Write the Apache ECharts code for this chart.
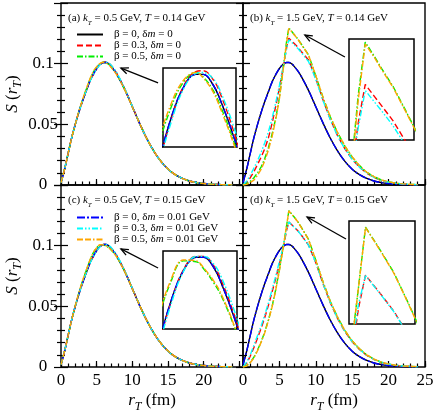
<!DOCTYPE html>
<html>
<head>
<meta charset="utf-8">
<script src="https://cdn.jsdelivr.net/npm/echarts@6/dist/echarts.min.js"></script>
<style>
  html, body { margin: 0; padding: 0; background: #fff; }
  #chart { width: 435px; height: 414px; }
</style>
</head>
<body>
<div id="chart"></div>
<script>
// r_T grid (fm)
const R = [0, 0.5, 1, 1.5, 2, 2.5, 3, 3.5, 4, 4.5, 5, 5.5, 6, 6.3, 6.7, 7, 7.5, 8, 9, 10, 11, 12, 13, 14, 15, 16, 17, 18, 19, 20, 21, 22, 23, 24]

// beta = 0 (black / blue), same in every panel
const S_BASE = [0.002, 0.013, 0.026, 0.039, 0.050, 0.060, 0.069, 0.077, 0.085, 0.091, 0.096, 0.0995, 0.1010, 0.1010, 0.0998, 0.0980, 0.0942, 0.0895, 0.0780, 0.0645, 0.0510, 0.0385, 0.0280, 0.0195, 0.0130, 0.0085, 0.0054, 0.0033, 0.0020, 0.0012, 0.0007, 0.0004, 0.0002, 0.0001]

// (a) kT = 0.5 GeV, T = 0.14 GeV
const A_R3 = [0.002, 0.013, 0.026, 0.039, 0.050, 0.060, 0.069, 0.077, 0.0848, 0.0907, 0.0958, 0.0996, 0.1013, 0.1014, 0.1004, 0.0987, 0.0948, 0.0900, 0.0783, 0.0646, 0.0510, 0.0384, 0.0279, 0.0194, 0.0129, 0.0085, 0.0054, 0.0033, 0.0020, 0.0012, 0.0007, 0.0004, 0.0002, 0.0001]
const A_G5 = [0.002, 0.013, 0.026, 0.039, 0.050, 0.0605, 0.0697, 0.0782, 0.0862, 0.0928, 0.0972, 0.1001, 0.1012, 0.1007, 0.0992, 0.0974, 0.0937, 0.0891, 0.0777, 0.0643, 0.0509, 0.0385, 0.0281, 0.0196, 0.0131, 0.0086, 0.0054, 0.0033, 0.0020, 0.0012, 0.0007, 0.0004, 0.0002, 0.0001]
const A_C3 = [0.002, 0.013, 0.026, 0.039, 0.050, 0.060, 0.069, 0.077, 0.0847, 0.0906, 0.0955, 0.0993, 0.1011, 0.1012, 0.1005, 0.0990, 0.0953, 0.0906, 0.0786, 0.0648, 0.0511, 0.0384, 0.0279, 0.0194, 0.0129, 0.0085, 0.0054, 0.0033, 0.0020, 0.0012, 0.0007, 0.0004, 0.0002, 0.0001]
const A_O5 = [0.002, 0.013, 0.026, 0.039, 0.050, 0.0607, 0.0700, 0.0786, 0.0866, 0.0933, 0.0976, 0.1003, 0.1012, 0.1006, 0.0990, 0.0971, 0.0934, 0.0889, 0.0776, 0.0643, 0.0509, 0.0385, 0.0281, 0.0196, 0.0131, 0.0086, 0.0054, 0.0033, 0.0020, 0.0012, 0.0007, 0.0004, 0.0002, 0.0001]

// (b) kT = 1.5 GeV, T = 0.14 GeV
const B_R3 = [0, 0.002, 0.006, 0.011, 0.017, 0.023, 0.030, 0.039, 0.051, 0.065, 0.080, 0.096, 0.1135, 0.1210, 0.1186, 0.1168, 0.1138, 0.1100, 0.1030, 0.0880, 0.0700, 0.0540, 0.0405, 0.0298, 0.0212, 0.0146, 0.0097, 0.0062, 0.0038, 0.0023, 0.0013, 0.0008, 0.0004, 0.0002]
const B_G5 = [0, 0.001, 0.003, 0.006, 0.010, 0.015, 0.022, 0.031, 0.042, 0.055, 0.072, 0.095, 0.119, 0.1294, 0.1265, 0.1242, 0.1206, 0.1162, 0.1072, 0.0900, 0.0720, 0.0560, 0.0430, 0.0320, 0.0230, 0.0160, 0.0105, 0.0068, 0.0042, 0.0026, 0.0015, 0.0009, 0.0005, 0.0003]
const B_C3 = [0, 0.003, 0.008, 0.014, 0.020, 0.027, 0.035, 0.044, 0.055, 0.068, 0.082, 0.097, 0.1125, 0.1198, 0.1175, 0.1158, 0.1128, 0.1092, 0.1018, 0.0870, 0.0695, 0.0538, 0.0404, 0.0297, 0.0212, 0.0146, 0.0097, 0.0062, 0.0038, 0.0023, 0.0013, 0.0008, 0.0004, 0.0002]
const B_O5 = [0, 0.0005, 0.002, 0.004, 0.008, 0.013, 0.020, 0.029, 0.040, 0.054, 0.071, 0.094, 0.118, 0.1290, 0.1263, 0.1240, 0.1204, 0.1160, 0.1071, 0.0900, 0.0721, 0.0561, 0.0431, 0.0321, 0.0231, 0.0160, 0.0105, 0.0068, 0.0042, 0.0026, 0.0015, 0.0009, 0.0005, 0.0003]

// (c) kT = 0.5 GeV, T = 0.15 GeV
const C_R3 = [0.002, 0.013, 0.026, 0.039, 0.050, 0.060, 0.069, 0.077, 0.0848, 0.0908, 0.0959, 0.0996, 0.1011, 0.1011, 0.1000, 0.0983, 0.0945, 0.0897, 0.0782, 0.0646, 0.0510, 0.0385, 0.0280, 0.0195, 0.0130, 0.0085, 0.0054, 0.0033, 0.0020, 0.0012, 0.0007, 0.0004, 0.0002, 0.0001]
const C_G5 = [0.002, 0.013, 0.026, 0.039, 0.0505, 0.061, 0.0705, 0.079, 0.0870, 0.0938, 0.0982, 0.1006, 0.1005, 0.0997, 0.0981, 0.0966, 0.0932, 0.0889, 0.0778, 0.0645, 0.0511, 0.0386, 0.0281, 0.0196, 0.0131, 0.0086, 0.0054, 0.0033, 0.0020, 0.0012, 0.0007, 0.0004, 0.0002, 0.0001]
const C_C3 = [0.002, 0.013, 0.026, 0.039, 0.050, 0.060, 0.069, 0.077, 0.0847, 0.0906, 0.0956, 0.0994, 0.1011, 0.1011, 0.1002, 0.0987, 0.0950, 0.0903, 0.0785, 0.0647, 0.0511, 0.0385, 0.0280, 0.0195, 0.0130, 0.0085, 0.0054, 0.0033, 0.0020, 0.0012, 0.0007, 0.0004, 0.0002, 0.0001]
const C_O5 = [0.002, 0.013, 0.026, 0.039, 0.0505, 0.0612, 0.0708, 0.0793, 0.0873, 0.0940, 0.0984, 0.1007, 0.1006, 0.0998, 0.0983, 0.0968, 0.0933, 0.0889, 0.0777, 0.0644, 0.0510, 0.0386, 0.0281, 0.0196, 0.0131, 0.0086, 0.0054, 0.0033, 0.0020, 0.0012, 0.0007, 0.0004, 0.0002, 0.0001]

// (d) kT = 1.5 GeV, T = 0.15 GeV
const D_R3 = [0, 0.003, 0.009, 0.016, 0.024, 0.032, 0.041, 0.051, 0.062, 0.073, 0.085, 0.097, 0.1130, 0.1195, 0.1172, 0.1155, 0.1125, 0.1088, 0.1005, 0.0860, 0.0685, 0.0528, 0.0398, 0.0292, 0.0208, 0.0144, 0.0096, 0.0062, 0.0038, 0.0023, 0.0013, 0.0008, 0.0004, 0.0002]
const D_G5 = [0, 0.001, 0.004, 0.008, 0.014, 0.021, 0.029, 0.039, 0.050, 0.064, 0.080, 0.098, 0.117, 0.1288, 0.1260, 0.1238, 0.1200, 0.1152, 0.1052, 0.0880, 0.0700, 0.0540, 0.0410, 0.0300, 0.0215, 0.0150, 0.0100, 0.0064, 0.0040, 0.0024, 0.0014, 0.0008, 0.0005, 0.0003]
const D_C3 = [0, 0.004, 0.010, 0.018, 0.026, 0.034, 0.043, 0.053, 0.064, 0.075, 0.087, 0.099, 0.1138, 0.1194, 0.1171, 0.1154, 0.1124, 0.1087, 0.1004, 0.0860, 0.0686, 0.0529, 0.0398, 0.0292, 0.0208, 0.0144, 0.0096, 0.0062, 0.0038, 0.0023, 0.0013, 0.0008, 0.0004, 0.0002]
const D_O5 = [0, 0.0008, 0.0035, 0.0075, 0.0135, 0.0205, 0.0285, 0.0385, 0.0495, 0.0635, 0.0795, 0.0978, 0.1170, 0.1287, 0.1259, 0.1237, 0.1199, 0.1151, 0.1051, 0.0880, 0.0700, 0.0540, 0.0410, 0.0300, 0.0215, 0.0150, 0.0100, 0.0064, 0.0040, 0.0024, 0.0014, 0.0008, 0.0005, 0.0003]

// tick labels
const X_LABELS_LEFT = [0, 5, 10, 15, 20]
const X_LABELS_RIGHT = [0, 5, 10, 15, 20, 25]

const NAMES = ['β = 0, δm = 0', 'β = 0.3, δm = 0', 'β = 0.5, δm = 0',
  'β = 0, δm = 0.01 GeV', 'β = 0.3, δm = 0.01 GeV', 'β = 0.5, δm = 0.01 GeV']
const CURVES = [
  [S_BASE, A_R3, A_G5, S_BASE, A_C3, A_O5],
  [S_BASE, B_R3, B_G5, S_BASE, B_C3, B_O5],
  [S_BASE, C_R3, C_G5, S_BASE, C_C3, C_O5],
  [S_BASE, D_R3, D_G5, S_BASE, D_C3, D_O5]
]
const PANEL_TEXT = [
  '(a) {i|k}{s|T}{n| = 0.5 GeV, }{i|T}{n| = 0.14 GeV}',
  '(b) {i|k}{s|T}{n| = 1.5 GeV, }{i|T}{n| = 0.14 GeV}',
  '(c) {i|k}{s|T}{n| = 0.5 GeV, }{i|T}{n| = 0.15 GeV}',
  '(d) {i|k}{s|T}{n| = 1.5 GeV, }{i|T}{n| = 0.15 GeV}'
]
// arrows: [tail, head] in data coords of each panel
const ARROWS = [
  [[13.6, 0.0841], [8.4, 0.0964]],
  [[14.0, 0.1055], [8.5, 0.1236]],
  [[13.6, 0.0816], [8.4, 0.0973]],
  [[14.15, 0.1055], [8.8, 0.1236]]
]
const INSET_X = [[4.7, 7.6], [5.6, 8.4], [4.7, 7.6], [5.6, 8.4]]
const INSET_Y = [[0.093, 0.1017], [0.11, 0.13], [0.093, 0.1017], [0.11, 0.13]]

// ---- layout / style ----
const SERIF = '"Liberation Serif", "DejaVu Serif", serif'
const MAIN = [[61, 3], [243, 3], [61, 185], [243, 185]]
const PW = 182, PH = 182
const X_MAX = [25.5, 25, 25.5, 25]
const INSET = [[163, 68, 73, 79], [349, 39, 65, 101], [163, 251, 74, 78], [349, 221, 66, 103]]
const CUSPED = [false, true, false, true]
const STYLES = [
  { color: '#000000', type: 'solid' },
  { color: '#ff0000', type: [6, 3] },
  { color: '#00ee00', type: [6, 2, 1.5, 2] },
  { color: '#0000ff', type: [8, 2, 2, 2] },
  { color: '#00ffff', type: [6, 2, 1.5, 2, 1.5, 2] },
  { color: '#ffa500', type: [6, 2, 6, 2, 1.5, 2] }
]

function richSet (size) {
  return {
    n: { fontFamily: SERIF, fontSize: size, color: '#000', lineHeight: size + 7 },
    i: { fontFamily: SERIF, fontSize: size, fontStyle: 'italic', color: '#000', lineHeight: size + 7 },
    s: { fontFamily: SERIF, fontSize: Math.round(size * 0.68), fontStyle: 'italic', color: '#000', verticalAlign: 'bottom', lineHeight: Math.round(size * 0.6) }
  }
}

const grids = [], xAxes = [], yAxes = [], series = []
for (let p = 0; p < 4; p++) {
  const bottomRow = p >= 2, leftCol = p % 2 === 0
  grids.push({ left: MAIN[p][0], top: MAIN[p][1], width: PW, height: PH, show: true,
    borderColor: '#000', borderWidth: 1.4, backgroundColor: 'transparent', outerBoundsMode: 'none' })
  const labels = leftCol ? X_LABELS_LEFT : X_LABELS_RIGHT
  // major x axis
  xAxes.push({ type: 'value', gridIndex: p, min: 0, max: X_MAX[p], interval: 5, position: 'bottom',
    axisLine: { show: false }, splitLine: { show: false },
    axisTick: { inside: true, length: 6, lineStyle: { color: '#000', width: 1.2 } },
    axisLabel: { show: bottomRow, margin: 5, fontFamily: SERIF, fontSize: 17, color: '#000',
      formatter: v => labels.includes(v) ? String(v) : '' },
    name: bottomRow ? '{i|r}{s|T}{n| (fm)}' : '', nameLocation: 'middle', nameGap: 22,
    nameTextStyle: { rich: richSet(17) } })
  // minor x axis
  xAxes.push({ type: 'value', gridIndex: p, min: 0, max: X_MAX[p], interval: 1, position: 'bottom',
    axisLine: { show: false }, splitLine: { show: false }, axisLabel: { show: false },
    axisTick: { inside: true, length: 3.5, lineStyle: { color: '#000', width: 1.2 } } })
  const yCommon = { type: 'value', gridIndex: p, min: 0, max: 0.15, interval: 0.05,
    axisLine: { show: false }, splitLine: { show: false },
    axisTick: { inside: true, length: 7, lineStyle: { color: '#000', width: 1.2 } },
    minorTick: { show: true, splitNumber: 5, length: 4, lineStyle: { color: '#000', width: 1.2 } } }
  yAxes.push(Object.assign({}, yCommon, { position: 'left',
    axisLabel: { show: leftCol, showMaxLabel: false, margin: 18, align: 'center', fontFamily: SERIF, fontSize: 17, color: '#000' },
    name: leftCol ? '{i|S}{n| (}{i|r}{s|T}{n|)}' : '', nameLocation: 'middle', nameGap: 36, nameRotate: 90,
    nameTextStyle: { rich: richSet(17) } }))
  yAxes.push(Object.assign({}, yCommon, { position: 'right', axisLabel: { show: false } }))
}
for (let p = 0; p < 4; p++) {
  grids.push({ left: INSET[p][0], top: INSET[p][1], width: INSET[p][2], height: INSET[p][3], show: true,
    borderColor: '#000', borderWidth: 1.5, backgroundColor: '#fff', outerBoundsMode: 'none' })
  xAxes.push({ type: 'value', gridIndex: 4 + p, min: INSET_X[p][0], max: INSET_X[p][1], show: false })
  yAxes.push({ type: 'value', gridIndex: 4 + p, min: INSET_Y[p][0], max: INSET_Y[p][1], show: false })
}

for (let p = 0; p < 4; p++) {
  for (const inset of [false, true]) {
    CURVES[p].forEach((ys, k) => {
      series.push({
        type: 'line', name: NAMES[k],
        xAxisIndex: inset ? 8 + p : 2 * p, yAxisIndex: inset ? 8 + p : 2 * p,
        data: R.map((r, j) => [r, ys[j]]),
        showSymbol: false, symbol: 'none',
        smooth: (CUSPED[p] && k % 3 !== 0) ? false : 0.4,
        clip: true,
        lineStyle: { color: STYLES[k].color, type: STYLES[k].type, width: 1.4 },
        itemStyle: { color: STYLES[k].color },
        z: 2 + k
      })
    })
  }
}

const legendBase = {
  orient: 'vertical', padding: 0, itemWidth: 26, itemHeight: 10, itemGap: 0, selectedMode: false,
  itemStyle: { opacity: 0, borderWidth: 0 },
  formatter: n => '{n|' + n.replace('δm', 'δ}{i|m}{n|') + '}',
  textStyle: { padding: [0, 0, 0, 6], rich: {
    n: { fontFamily: SERIF, fontSize: 11, color: '#000', lineHeight: 10 },
    i: { fontFamily: SERIF, fontSize: 11, fontStyle: 'italic', color: '#000', lineHeight: 10 } } }
}

const option = {
  animation: false,
  backgroundColor: '#fff',
  title: PANEL_TEXT.map((t, p) => ({
    text: t, left: MAIN[p][0] + 7, top: MAIN[p][1] + 6, padding: 0,
    textStyle: { fontFamily: SERIF, fontSize: 11, fontWeight: 'normal', color: '#000', rich: richSet(11) }
  })),
  legend: [
    Object.assign({}, legendBase, { data: NAMES.slice(0, 3), left: 76, top: 29 }),
    Object.assign({}, legendBase, { data: NAMES.slice(3), left: 76, top: 212 })
  ],
  grid: grids,
  xAxis: xAxes,
  yAxis: yAxes,
  series: series
}

const chart = echarts.init(document.getElementById('chart'), null, { renderer: 'canvas' })
chart.setOption(option)

// arrows from each inset to the peak
const arrowEls = []
ARROWS.forEach((a, p) => {
  const t = chart.convertToPixel({ seriesIndex: p * 12 }, a[0])
  const h = chart.convertToPixel({ seriesIndex: p * 12 }, a[1])
  const ang = Math.atan2(t[1] - h[1], t[0] - h[0])
  const L = 8, w = 0.4
  const p1 = [h[0] + L * Math.cos(ang + w), h[1] + L * Math.sin(ang + w)]
  const p2 = [h[0] + L * Math.cos(ang - w), h[1] + L * Math.sin(ang - w)]
  arrowEls.push({ type: 'line', shape: { x1: t[0], y1: t[1], x2: h[0], y2: h[1] }, style: { stroke: '#000', lineWidth: 1.3 }, z: 20 })
  arrowEls.push({ type: 'polyline', shape: { points: [p1, h, p2] }, style: { stroke: '#000', fill: null, lineWidth: 1.3 }, z: 20 })
})
chart.setOption({ graphic: arrowEls })
</script>
</body>
</html>
